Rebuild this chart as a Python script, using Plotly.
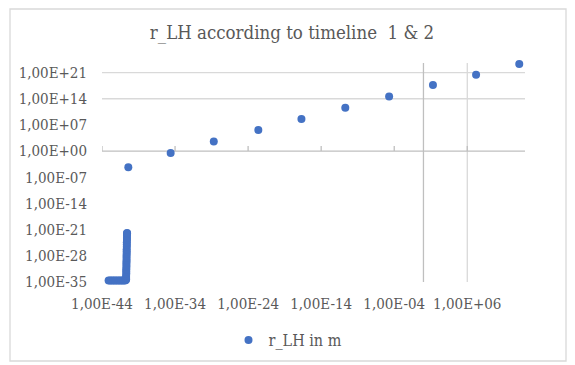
import plotly.graph_objects as go

# ---- data ----
# Planck-era cluster (horizontal run, then steep rise)
cluster_t = [8.0e-44, 1.3e-43, 2.2e-43, 3.6e-43, 6.0e-43, 1.0e-42, 1.7e-42, 2.8e-42,
             4.6e-42, 7.5e-42, 1.2e-41, 1.7e-41, 2.0e-41,
             2.0e-41, 2.0e-41, 2.1e-41, 2.1e-41, 2.1e-41, 2.2e-41, 2.2e-41, 2.2e-41,
             2.3e-41, 2.3e-41, 2.3e-41, 2.4e-41, 2.4e-41, 2.4e-41, 2.5e-41, 2.5e-41,
             2.5e-41, 2.6e-41, 2.6e-41, 2.6e-41, 2.7e-41, 2.7e-41]
cluster_r = [2.5e-35, 2.5e-35, 2.5e-35, 2.5e-35, 2.5e-35, 2.5e-35, 2.5e-35, 2.5e-35,
             2.5e-35, 2.5e-35, 2.5e-35, 3.0e-35, 5.0e-35,
             1.2e-34, 4.0e-34, 1.6e-33, 6.0e-33, 2.5e-32, 1.0e-31, 4.0e-31, 1.6e-30,
             6.0e-30, 2.5e-29, 1.0e-28, 4.0e-28, 1.6e-27, 6.0e-27, 2.5e-26, 1.0e-25,
             4.0e-25, 1.6e-24, 6.0e-24, 2.5e-23, 1.0e-22, 1.3e-22]

# later single points
main_t = [4.0e-41, 2.5e-35, 2.0e-29, 2.5e-23, 2.0e-17, 2.0e-11, 2.0e-5, 2.0e1, 1.6e7, 1.3e13]
main_r = [5.2e-5, 3.0e-1, 3.9e2, 4.1e5, 3.6e8, 3.8e11, 4.3e14, 4.5e17, 2.5e20, 2.0e23]

x_ticks = [1e-44, 1e-34, 1e-24, 1e-14, 1e-4, 1e6]
x_ticktext = ["1,00E-44", "1,00E-34", "1,00E-24", "1,00E-14", "1,00E-04", "1,00E+06"]
y_ticks = [1e-35, 1e-28, 1e-21, 1e-14, 1e-7, 1e0, 1e7, 1e14, 1e21]
y_ticktext = ["1,00E-35", "1,00E-28", "1,00E-21", "1,00E-14", "1,00E-07",
              "1,00E+00", "1,00E+07", "1,00E+14", "1,00E+21"]
h_grid = [1e21, 1e14]
v_grid = [1e6]
cross_x, cross_y = 1.0, 1.0

title_text = "r_LH according to timeline  1 & 2"
series_name = "r_LH in m"

# ---- style ----
BLUE = "#4472C4"
TXT = "#595959"
GRID = "#D9D9D9"
AXIS = "#BFBFBF"
FONT = "DejaVu Serif Condensed, DejaVu Serif"

W, H = 575, 365
ML, MR, MT, MB = 102, 50, 63, 83
XRANGE = [-44, 13.9]
YRANGE = [-35, 23.56]

fig = go.Figure()
fig.add_trace(go.Scatter(x=cluster_t, y=cluster_r, mode="markers",
                         marker=dict(color=BLUE, size=8), showlegend=False,
                         cliponaxis=False, hoverinfo="skip"))
fig.add_trace(go.Scatter(x=main_t, y=main_r, mode="markers", name=series_name,
                         marker=dict(color=BLUE, size=8), cliponaxis=False))

shapes = []
for gv in h_grid:
    shapes.append(dict(type="line", xref="x domain", yref="y", x0=0, x1=1, y0=gv, y1=gv,
                       line=dict(color=GRID, width=1.3), layer="below"))
for gv in v_grid:
    shapes.append(dict(type="line", xref="x", yref="y domain", x0=gv, x1=gv, y0=0, y1=1,
                       line=dict(color=GRID, width=1.3), layer="below"))
shapes.append(dict(type="line", xref="x", yref="y domain", x0=cross_x, x1=cross_x, y0=0, y1=1,
                   line=dict(color=AXIS, width=1.3), layer="below"))
shapes.append(dict(type="line", xref="x domain", yref="y", x0=0, x1=1, y0=cross_y, y1=cross_y,
                   line=dict(color=AXIS, width=1.3), layer="below"))
for tv in x_ticks:
    shapes.append(dict(type="line", xref="x", yref="y", ysizemode="pixel", yanchor=cross_y,
                       x0=tv, x1=tv, y0=0, y1=5,
                       line=dict(color=AXIS, width=1.3), layer="below"))
shapes.append(dict(type="rect", xref="paper", yref="paper",
                   x0=(10 - ML) / (W - ML - MR), x1=(566 - ML) / (W - ML - MR),
                   y0=-(361 - (H - MB)) / (H - MT - MB), y1=1 + (MT - 9) / (H - MT - MB),
                   line=dict(color=GRID, width=1.3), layer="below"))

fig.update_layout(
    width=W, height=H,
    margin=dict(l=ML, r=MR, t=MT, b=MB, autoexpand=False),
    paper_bgcolor="white", plot_bgcolor="white",
    font=dict(family=FONT, color=TXT, size=15),
    title=dict(text=title_text, x=292 / W, xref="container", xanchor="center",
               y=1 - 33 / H, yref="container", yanchor="middle",
               font=dict(family=FONT, size=18.5, color=TXT)),
    xaxis=dict(type="log", range=XRANGE, tickvals=x_ticks, ticktext=x_ticktext,
               showgrid=False, zeroline=False, showline=False, ticks="", tickangle=0,
               tickfont=dict(family=FONT, size=15, color=TXT), ticklabelstandoff=11),
    yaxis=dict(type="log", range=YRANGE, tickvals=y_ticks, ticktext=y_ticktext,
               showgrid=False, zeroline=False, showline=False, ticks="",
               tickfont=dict(family=FONT, size=15, color=TXT), ticklabelstandoff=14),
    legend=dict(orientation="h", x=(288 - ML) / (W - ML - MR), xanchor="center",
                y=-(340 - (H - MB)) / (H - MT - MB), yanchor="middle",
                font=dict(family=FONT, size=16, color=TXT), itemwidth=30,
                bgcolor="rgba(0,0,0,0)"),
    shapes=shapes,
)

fig.write_html("out.html")
